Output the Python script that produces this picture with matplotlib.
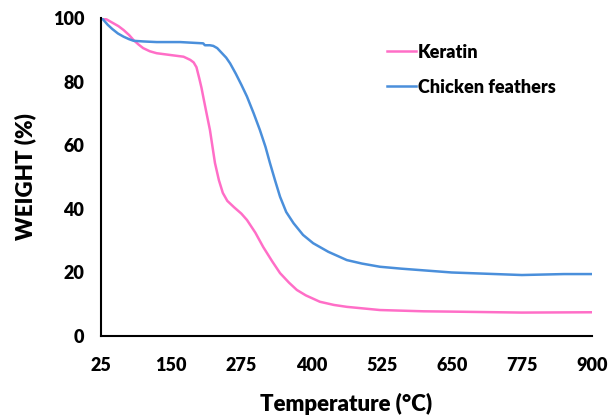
import matplotlib.pyplot as plt

plt.rcParams['font.family'] = ['Lato', 'DejaVu Sans']
plt.rcParams['font.weight'] = 'heavy'

# temperature (C) and weight (%)
keratin_t = [25, 35, 47, 56, 65, 75, 83, 92, 100, 112, 124, 150, 172, 184, 190, 195, 200, 204,
             207, 213, 219, 228, 235, 242, 250, 262, 275, 285, 300, 314, 330, 344, 360,
             374, 390, 415, 440, 463, 522, 600, 650, 775, 900]
keratin_w = [100, 99.5, 98.3, 97.4, 96.2, 94.6, 93, 91.6, 90.5, 89.5, 88.9, 88.3, 87.8, 86.8, 86, 84.5, 81, 78,
             75.3, 70, 64.8, 54.4, 49, 45, 42.5, 40.5, 38.5, 36.5, 32.5, 28, 23.5, 19.8, 16.8,
             14.5, 12.8, 10.8, 9.8, 9.2, 8.2, 7.8, 7.7, 7.4, 7.5]

feathers_t = [25, 29, 37, 45, 55, 65, 75, 83, 100, 124, 166, 207, 210, 219, 225, 232, 240, 248,
              255, 265, 275, 285, 297, 308, 318, 326, 335, 344, 355, 368, 385, 403, 430,
              463, 490, 522, 560, 650, 775, 850, 900]
feathers_w = [100, 99.4, 97.8, 96.5, 95.1, 94.1, 93.3, 92.8, 92.6, 92.4, 92.4, 92.0, 91.4, 91.4, 91.2, 90.5, 89, 87.5,
              85.7, 82.5, 79, 75.3, 70, 64.8, 59.5, 54.4, 49, 43.8, 39, 35.5, 31.8, 29.2, 26.5,
              23.9, 22.8, 21.8, 21.2, 20.0, 19.2, 19.5, 19.5]

x_ticks = [25, 150, 275, 400, 525, 650, 775, 900]
y_ticks = [0, 20, 40, 60, 80, 100]

fig = plt.figure(figsize=(6.09, 4.16), dpi=100)
ax = fig.add_axes([0.166, 0.192, 0.806, 0.765])

ax.plot(keratin_t, keratin_w, color='#FF6EC7', lw=1.8, label='Keratin')
ax.plot(feathers_t, feathers_w, color='#4A8FDB', lw=1.8, label='Chicken feathers')

ax.set_xlim(25, 900)
ax.set_ylim(0, 100)
ax.set_xticks(x_ticks)
ax.set_yticks(y_ticks)
ax.tick_params(length=0, labelsize=13, pad=15)
ax.tick_params(axis='y', pad=12)
for s in ['top', 'right']:
    ax.spines[s].set_visible(False)
for s in ['left', 'bottom']:
    ax.spines[s].set_linewidth(1.5)
    ax.spines[s].set_color('black')

ax.set_xlabel('Temperature (°C)', fontsize=16, fontweight='heavy', labelpad=14)
ax.set_ylabel('WEIGHT (%)', fontsize=16, fontweight='heavy', labelpad=12)

ax.legend(loc='upper left', bbox_to_anchor=(0.55, 0.97), frameon=False, fontsize=13,
          handlelength=1.6, handletextpad=0.1, labelspacing=1.0)

fig.savefig('out.png', dpi=100)
